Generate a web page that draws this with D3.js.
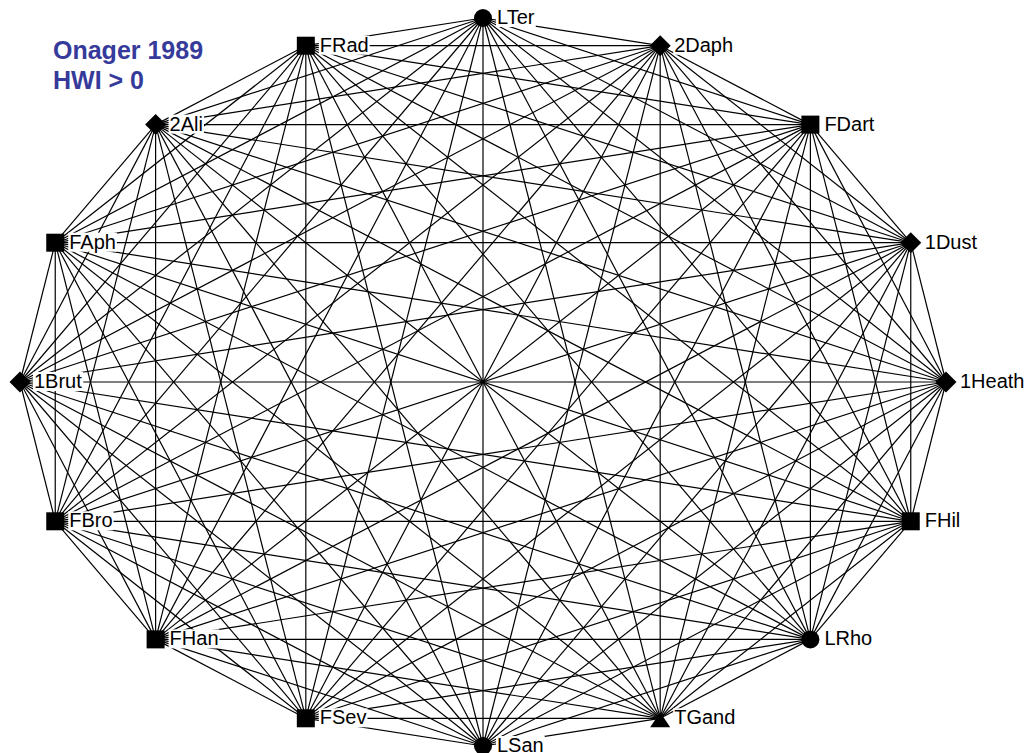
<!DOCTYPE html>
<html>
<head>
<meta charset="utf-8">
<style>
  body { margin: 0; background: #fff; }
  svg { display: block; }
  .title { font-family: Arial, "Liberation Sans", sans-serif; font-weight: bold; font-size: 25px; fill: #363a9a; }
  .lbl { font-family: Arial, "Liberation Sans", sans-serif; font-size: 20px; fill: #000; }
</style>
</head>
<body>
<div id="chart"></div>
<script src="https://d3js.org/d3.v7.min.js"></script>
<script>
// nodes clockwise starting at top
var names = ["LTer", "2Daph", "FDart", "1Dust", "1Heath", "FHil", "LRho", "TGand",
             "LSan", "FSev", "FHan", "FBro", "1Brut", "FAph", "2Ali", "FRad"];
var shapes = ["circle", "diamond", "square", "diamond", "diamond", "square", "circle", "triangle",
              "circle", "square", "square", "square", "diamond", "square", "diamond", "square"];
var titleLines = ["Onager 1989", "HWI > 0"];

var width = 1030, height = 753;
var cx = 483, cy = 382, rx = 463, ry = 364;

var svg = d3.select("#chart").append("svg")
    .attr("width", width).attr("height", height);

// angle position on the ellipse
var angle = d3.scaleLinear().domain([0, names.length]).range([0, 2 * Math.PI]);

var nodes = names.map(function(n, i) {
    var a = angle(i);
    return { id: n, shape: shapes[i], x: cx + rx * Math.sin(a), y: cy - ry * Math.cos(a) };
});

var links = [];
for (var i = 0; i < nodes.length; i++) {
    for (var j = i + 1; j < nodes.length; j++) {
        links.push({ source: nodes[i], target: nodes[j] });
    }
}

svg.append("g").selectAll("line")
    .data(links)
    .enter().append("line")
    .attr("x1", d => d.source.x).attr("y1", d => d.source.y)
    .attr("x2", d => d.target.x).attr("y2", d => d.target.y)
    .attr("stroke", "#000").attr("stroke-width", 1.2);

// labels with white boxes behind them
var lab = svg.append("g").selectAll("g")
    .data(nodes)
    .enter().append("g")
    .attr("transform", d => "translate(" + (d.x + 14) + "," + (d.y + 6) + ")");

lab.append("text")
    .attr("class", "lbl")
    .text(d => d.id);

lab.each(function() {
    var g = d3.select(this);
    var bb = g.select("text").node().getBBox();
    g.insert("rect", "text")
        .attr("x", bb.x - 1).attr("y", bb.y + 2)
        .attr("width", bb.width + 2).attr("height", bb.height - 3)
        .attr("fill", "#fff");
});

// marker shapes
function markerPath(shape) {
    if (shape === "diamond") return "M0,-10.5L10.5,0L0,10.5L-10.5,0Z";
    if (shape === "square") return "M-9,-9H9V9H-9Z";
    if (shape === "triangle") return "M0,-6L10,9H-10Z";
    return d3.symbol().type(d3.symbolCircle).size(Math.PI * 81)();
}

svg.append("g").selectAll("path")
    .data(nodes)
    .enter().append("path")
    .attr("transform", d => "translate(" + d.x + "," + d.y + ")")
    .attr("d", d => markerPath(d.shape))
    .attr("fill", "#000");

svg.append("g").selectAll("text")
    .data(titleLines)
    .enter().append("text")
    .attr("class", "title")
    .attr("x", 53)
    .attr("y", (d, i) => 59 + i * 30)
    .text(d => d);
</script>
</body>
</html>
